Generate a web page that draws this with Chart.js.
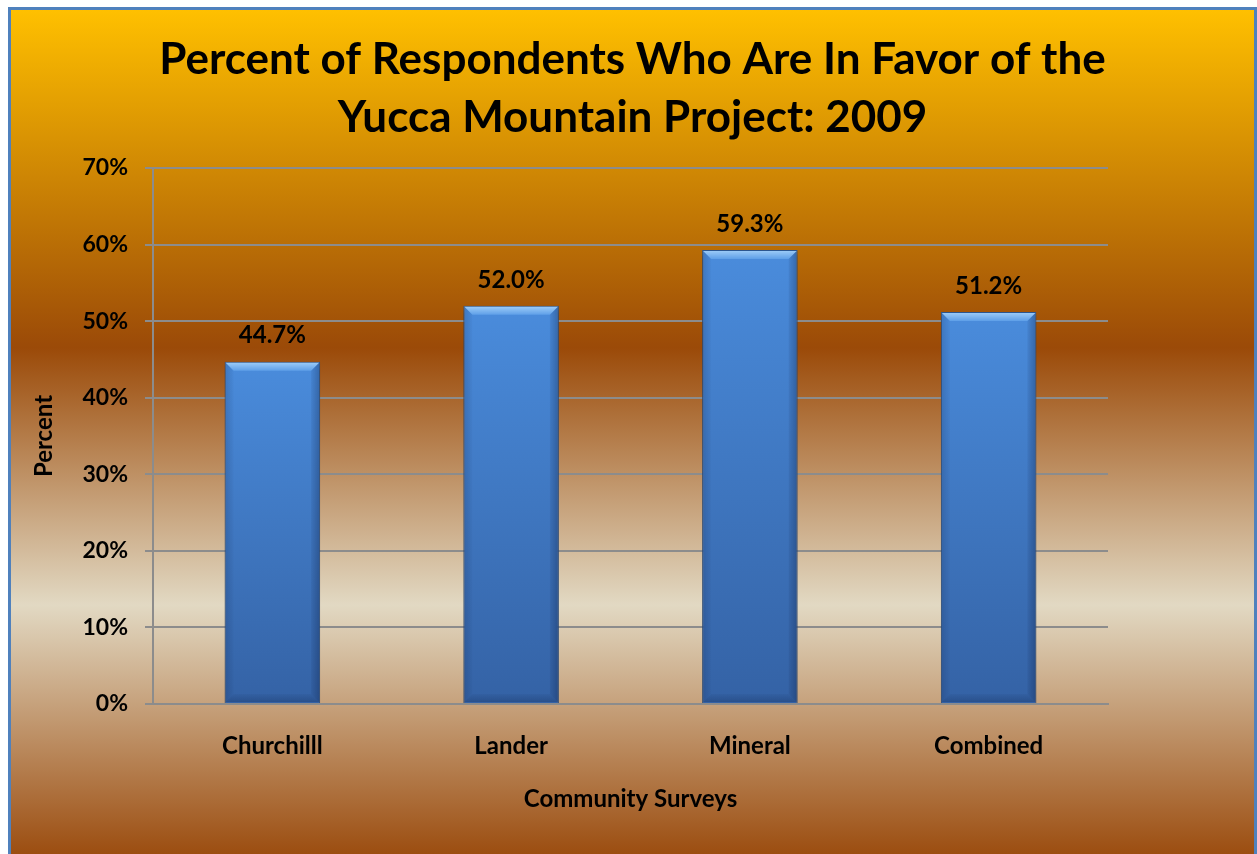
<!DOCTYPE html>
<html>
<head>
<meta charset="utf-8">
<title>Yucca Mountain Project: 2009</title>
<script src="https://cdn.jsdelivr.net/npm/chart.js@4.4.1/dist/chart.umd.min.js"></script>
<style>
  html, body { margin: 0; padding: 0; background: #fff; width: 1257px; height: 854px; overflow: hidden; }
  /* Office-style "gold/sunset" gradient panel with the blue chart-object border */
  #frame {
    position: absolute; left: 8px; top: 7px;
    width: 1243px; height: 850px;
    border: 3px solid #4F81BD; border-bottom: none;
    background: linear-gradient(to bottom,
      #FFC000 0%, #9B4A08 39.7%, #E2D9C3 70%, #9A4A0C 100%);
  }
  #chart { position: absolute; left: 0; top: 0; }
</style>
</head>
<body>
<div id="frame"><canvas id="chart" width="1243" height="844"></canvas></div>
<script>
// ---- data ----
const CATEGORIES   = ['Churchilll', 'Lander', 'Mineral', 'Combined'];
const FAVOR_PCT    = [44.7, 52.0, 59.3, 51.2];
const Y_TICKS      = [0, 10, 20, 30, 40, 50, 60, 70];
const TITLE_LINES  = ['Percent of Respondents Who Are In Favor of the', 'Yucca Mountain Project: 2009'];
const X_TITLE      = 'Community Surveys';
const Y_TITLE      = 'Percent';

const FONT  = 'Lato, "Open Sans", sans-serif';
const GRID  = '#8C8C8C';

// per-bar vertical gradient, built from the y scale so it follows each bar
function barFill(ctx) {
  const chart = ctx.chart;
  const y = chart.scales.y;
  if (!chart.chartArea || !y || ctx.raw == null) return '#3F78C4';
  const top  = y.getPixelForValue(ctx.raw);
  const base = y.getPixelForValue(0);
  const g = chart.ctx.createLinearGradient(0, top, 0, base);
  g.addColorStop(0, '#4A8CDC');
  g.addColorStop(1, '#3462A5');
  return g;
}

function facet(c, pts, fill) {
  c.fillStyle = fill;
  c.beginPath();
  c.moveTo(pts[0][0], pts[0][1]);
  for (let i = 1; i < pts.length; i++) c.lineTo(pts[i][0], pts[i][1]);
  c.closePath();
  c.fill();
}

// soft drop shadow under the bars, then bevel facets on top of them
const bevelBars = {
  id: 'bevelBars',
  beforeDatasetDraw(chart) {
    const c = chart.ctx;
    c.save();
    c.shadowColor = 'rgba(50,25,0,0.45)';
    c.shadowBlur = 6;
    c.shadowOffsetY = 4;
  },
  afterDatasetDraw(chart) {
    const c = chart.ctx;
    c.restore();
    const b = 8;
    chart.getDatasetMeta(0).data.forEach(bar => {
      const { x, y, base, width } = bar.getProps(['x', 'y', 'base', 'width'], true);
      const x0 = x - width / 2 + 1, x1 = x + width / 2 - 1;
      const y0 = y + 1, y1 = base - 1;
      c.save();
      const tg = c.createLinearGradient(0, y0, 0, y0 + b);
      tg.addColorStop(0, '#9ACAF7');
      tg.addColorStop(1, '#5E9FE8');
      facet(c, [[x0, y0], [x1, y0], [x1 - b, y0 + b], [x0 + b, y0 + b]], tg);

      const lg = c.createLinearGradient(x0, 0, x0 + b, 0);
      lg.addColorStop(0, 'rgba(0,10,40,0.14)');
      lg.addColorStop(1, 'rgba(0,10,40,0.02)');
      facet(c, [[x0, y0], [x0 + b, y0 + b], [x0 + b, y1 - b], [x0, y1]], lg);

      const rg = c.createLinearGradient(x1 - b, 0, x1, 0);
      rg.addColorStop(0, 'rgba(0,10,40,0.06)');
      rg.addColorStop(1, 'rgba(0,10,40,0.26)');
      facet(c, [[x1, y0], [x1 - b, y0 + b], [x1 - b, y1 - b], [x1, y1]], rg);

      const bg = c.createLinearGradient(0, y1 - b, 0, y1);
      bg.addColorStop(0, 'rgba(0,10,40,0.04)');
      bg.addColorStop(1, 'rgba(0,10,40,0.2)');
      facet(c, [[x0, y1], [x0 + b, y1 - b], [x1 - b, y1 - b], [x1, y1]], bg);
      c.restore();
    });
  },
};

// value labels above the bars
const valueLabels = {
  id: 'valueLabels',
  afterDatasetsDraw(chart) {
    const c = chart.ctx;
    const data = chart.data.datasets[0].data;
    c.save();
    c.font = `bold 24px ${FONT}`;
    c.fillStyle = '#000';
    c.textAlign = 'center';
    c.textBaseline = 'middle';
    chart.getDatasetMeta(0).data.forEach((bar, i) => {
      const { x, y } = bar.getProps(['x', 'y'], true);
      c.fillText(data[i].toFixed(1) + '%', x, y - 26);
    });
    c.restore();
  },
};

new Chart(document.getElementById('chart'), {
  type: 'bar',
  data: {
    labels: CATEGORIES,
    datasets: [{
      label: 'In favor',
      data: FAVOR_PCT,
      backgroundColor: barFill,
      borderColor: '#2C5894',
      borderWidth: 1,
      barPercentage: 0.4,
      categoryPercentage: 1.0,
    }],
  },
  options: {
    responsive: false,
    devicePixelRatio: 1,
    animation: false,
    layout: { padding: 0 },
    plugins: {
      legend: { display: false },
      tooltip: { enabled: false },
      title: {
        display: true,
        text: TITLE_LINES,
        color: '#000',
        font: { family: FONT, size: 44, weight: 'bold', lineHeight: 58 / 44 },
        padding: { top: 21, bottom: 21 },
      },
    },
    scales: {
      x: {
        grid: { display: false, drawTicks: false },
        border: { display: true, color: GRID, width: 2 },
        ticks: { color: '#000', padding: 28, font: { family: FONT, size: 24, weight: 'bold' } },
        title: {
          display: true, text: X_TITLE, color: '#000',
          font: { family: FONT, size: 24, weight: 'bold' },
          padding: { top: 0, bottom: 40 },
        },
        afterFit(scale) { scale.height = 150; },
      },
      y: {
        min: 0,
        max: 70,
        afterBuildTicks(scale) { scale.ticks = Y_TICKS.map(v => ({ value: v })); },
        grid: { color: GRID, lineWidth: 2, tickLength: 8, tickColor: GRID },
        border: { display: true, color: GRID, width: 2 },
        ticks: {
          color: '#000', padding: 17,
          font: { family: FONT, size: 23, weight: 'bold' },
          callback: v => v + '%',
        },
        title: {
          display: true, text: Y_TITLE, color: '#000',
          font: { family: FONT, size: 24, weight: 'bold' },
          padding: { top: 19, bottom: 0 },
        },
        afterFit(scale) { scale.width = 142; },
      },
      // empty right-hand axis: only reserves the margin right of the plot
      yRight: {
        position: 'right',
        display: true,
        grid: { display: false, drawTicks: false },
        border: { display: false },
        ticks: { display: false },
        afterFit(scale) { scale.width = 146; },
      },
    },
  },
  plugins: [bevelBars, valueLabels],
});
</script>
</body>
</html>
